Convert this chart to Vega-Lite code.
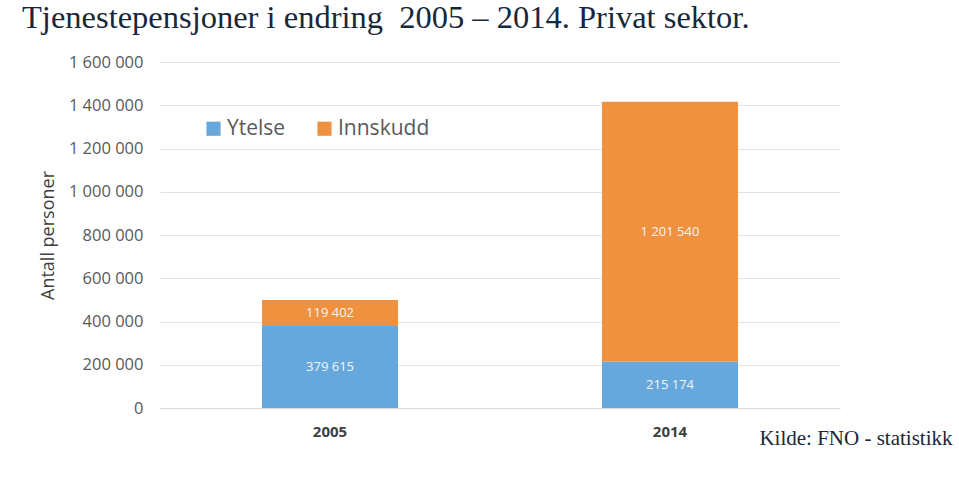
{
  "$schema": "https://vega.github.io/schema/vega-lite/v6.json",
  "autosize": {"type": "none"},
  "width": 680,
  "height": 346,
  "padding": {"left": 160, "top": 62, "right": 119, "bottom": 72},
  "background": "white",
  "title": {
    "text": "Tjenestepensjoner i endring\u00a0 2005 – 2014. Privat sektor.",
    "anchor": "start",
    "frame": "group",
    "font": "Liberation Serif",
    "fontSize": 32.5,
    "fontWeight": "normal",
    "color": "#17283a",
    "baseline": "alphabetic",
    "dx": -138,
    "dy": 16,
    "offset": 10
  },
  "config": {
    "locale": {"number": {"decimal": ",", "thousands": " ", "grouping": [3], "currency": ["", " kr"]}},
    "view": {"stroke": null},
    "font": "Open Sans"
  },
  "data": {
    "values": [
      {"year": "2005", "type": "Ytelse", "value": 379615},
      {"year": "2005", "type": "Innskudd", "value": 119402},
      {"year": "2014", "type": "Ytelse", "value": 215174},
      {"year": "2014", "type": "Innskudd", "value": 1201540}
    ]
  },
  "transform": [
    {"stack": "value", "groupby": ["year"], "sort": [{"field": "type", "order": "descending"}], "as": ["v0", "v1"]},
    {"calculate": "(datum.v0 + datum.v1) / 2", "as": "mid"}
  ],
  "encoding": {
    "x": {
      "field": "year",
      "type": "nominal",
      "scale": {"paddingInner": 0.6, "paddingOuter": 0.3},
      "axis": {
        "title": "Kilde: FNO - statistikk",
        "titleFont": "Liberation Serif",
        "titleFontSize": 21,
        "titleFontWeight": "normal",
        "titleColor": "#17283a",
        "titleAnchor": "end",
        "titleAlign": "right",
        "titleBaseline": "alphabetic",
        "titleX": 792,
        "titleY": 36,
        "labelAngle": 0,
        "labelFont": "Open Sans",
        "labelFontSize": 15,
        "labelFontWeight": "bold",
        "labelColor": "#404040",
        "labelPadding": 16,
        "ticks": false,
        "domainColor": "#d9d9d9",
        "domainWidth": 1
      }
    }
  },
  "layer": [
    {
      "mark": {"type": "bar", "width": 136},
      "encoding": {
        "y": {
          "field": "v0",
          "type": "quantitative",
          "scale": {"domain": [0, 1600000]},
          "axis": {
            "title": "Antall personer",
            "titleFont": "Open Sans",
            "titleFontSize": 18,
            "titleFontWeight": "normal",
            "titleColor": "#404040",
            "titlePadding": 11,
            "values": [0, 200000, 400000, 600000, 800000, 1000000, 1200000, 1400000, 1600000],
            "format": ",d",
            "labelFont": "Open Sans",
            "labelFontSize": 16.5,
            "labelColor": "#595959",
            "labelPadding": 17,
            "ticks": false,
            "domain": false,
            "gridColor": "#e3e3e3",
            "gridWidth": 1
          }
        },
        "y2": {"field": "v1"},
        "color": {
          "field": "type",
          "type": "nominal",
          "scale": {"domain": ["Ytelse", "Innskudd"], "range": ["#67a8dc", "#f09140"]},
          "legend": {
            "title": null,
            "orient": "none",
            "legendX": 43,
            "legendY": 56,
            "direction": "horizontal",
            "symbolType": "square",
            "symbolSize": 200,
            "symbolStrokeWidth": 0,
            "labelFont": "Open Sans",
            "labelFontSize": 21,
            "labelColor": "#595959",
            "columnPadding": 28,
            "labelOffset": 3
          }
        }
      }
    },
    {
      "mark": {"type": "text", "font": "Open Sans", "fontSize": 13, "color": "#f4f4f4", "baseline": "middle"},
      "encoding": {
        "y": {"field": "mid", "type": "quantitative"},
        "text": {"field": "value", "type": "quantitative", "format": ",d"}
      }
    }
  ]
}
